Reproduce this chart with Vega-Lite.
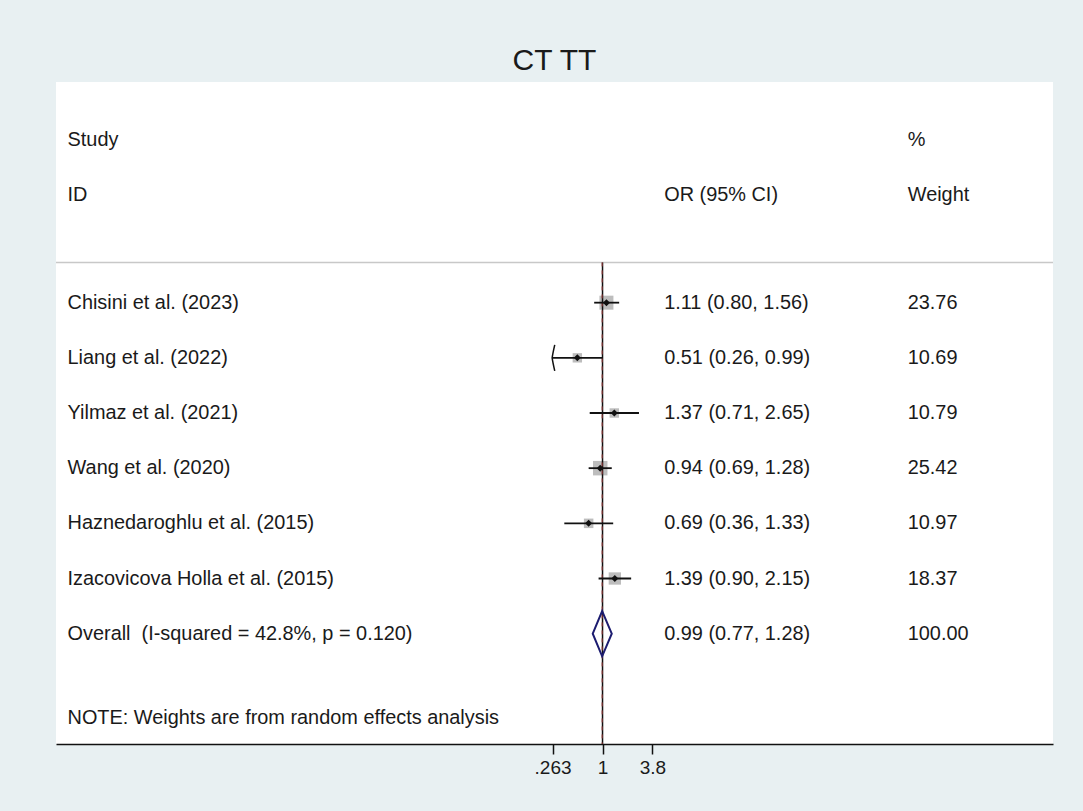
{
  "$schema": "https://vega.github.io/schema/vega-lite/v6.json",
  "width": 997,
  "height": 662,
  "autosize": {"type": "none"},
  "padding": {"left": 56, "top": 82, "right": 30, "bottom": 67},
  "background": "#e8f0f2",
  "config": {
    "view": {"fill": "white", "stroke": null},
    "font": "Liberation Sans",
    "text": {"font": "Liberation Sans", "fontSize": 19.9, "color": "#1a1a1a", "baseline": "middle"},
    "axisX": {
      "title": null, "grid": false,
      "domainColor": "#111111", "domainWidth": 1.5,
      "tickColor": "#111111", "tickWidth": 1.5, "tickSize": 10,
      "labelFont": "Liberation Sans", "labelFontSize": 19, "labelColor": "#1a1a1a",
      "labelPadding": 4, "labelFlush": false, "labelOverlap": false
    }
  },
  "title": {"text": "CT TT", "font": "Liberation Sans", "fontSize": 30, "fontWeight": "normal", "color": "#1a1a1a", "offset": 6, "anchor": "middle"},
  "data": {
    "values": [
      {"row": 1, "study": "Chisini et al. (2023)", "or": 1.11, "lo": 0.80, "hi": 1.56, "weight": 23.76},
      {"row": 2, "study": "Liang et al. (2022)", "or": 0.51, "lo": 0.26, "hi": 0.99, "weight": 10.69},
      {"row": 3, "study": "Yilmaz et al. (2021)", "or": 1.37, "lo": 0.71, "hi": 2.65, "weight": 10.79},
      {"row": 4, "study": "Wang et al. (2020)", "or": 0.94, "lo": 0.69, "hi": 1.28, "weight": 25.42},
      {"row": 5, "study": "Haznedaroghlu et al. (2015)", "or": 0.69, "lo": 0.36, "hi": 1.33, "weight": 10.97},
      {"row": 6, "study": "Izacovicova Holla et al. (2015)", "or": 1.39, "lo": 0.90, "hi": 2.15, "weight": 18.37},
      {"row": 7, "study": "Overall \u00a0(I-squared = 42.8%, p = 0.120)", "or": 0.99, "lo": 0.77, "hi": 1.28, "weight": 100.00}
    ]
  },
  "layer": [
    {
      "data": {"values": [{}]},
      "mark": {"type": "rule", "color": "#c8c8c8", "strokeWidth": 1.5},
      "encoding": {
        "y": {"datum": 0.27, "type": "quantitative", "scale": {"domain": [-3, 9], "reverse": true, "nice": false, "zero": false}, "axis": null}
      }
    },
    {
      "transform": [{"filter": "datum.row < 7"}],
      "mark": {"type": "point", "shape": "square", "filled": true, "color": "#bdbdbd", "opacity": 1},
      "encoding": {
        "x": {
          "field": "or", "type": "quantitative",
          "scale": {"type": "log", "domain": [4.504e-7, 170240], "nice": false},
          "axis": {
            "values": [0.263, 1, 3.8],
            "labelExpr": "datum.value < 0.5 ? '.263' : (datum.value < 2 ? '1' : '3.8')",
            "title": null
          }
        },
        "y": {"field": "row", "type": "quantitative", "axis": null},
        "size": {"field": "weight", "type": "quantitative", "scale": {"domain": [0, 100], "range": [0, 825]}, "legend": null}
      }
    },
    {
      "data": {"values": [{}]},
      "mark": {"type": "rule", "color": "#111111", "strokeWidth": 1.5},
      "encoding": {
        "x": {"datum": 1, "type": "quantitative", "title": null},
        "y": {"datum": 0.27, "type": "quantitative", "axis": null},
        "y2": {"datum": 9}
      }
    },
    {
      "transform": [{"filter": "datum.row == 7"}],
      "mark": {"type": "rule", "color": "#9a3a3a", "strokeWidth": 1, "strokeDash": [4, 4]},
      "encoding": {
        "x": {"field": "or", "type": "quantitative", "title": null},
        "y": {"datum": 0.27, "type": "quantitative", "axis": null},
        "y2": {"datum": 9}
      }
    },
    {
      "transform": [{"filter": "datum.row < 7"}],
      "mark": {"type": "rule", "color": "#111111", "strokeWidth": 1.8},
      "encoding": {
        "x": {"field": "lo", "type": "quantitative", "title": null},
        "x2": {"field": "hi"},
        "y": {"field": "row", "type": "quantitative", "axis": null}
      }
    },
    {
      "transform": [{"filter": "datum.lo < 0.263"}],
      "mark": {"type": "point", "shape": "M 0.2 -1 Q 0.05 -0.35 0 0 Q 0.05 0.35 0.2 1", "filled": false, "stroke": "#111111", "strokeWidth": 1.5, "size": 676, "opacity": 1},
      "encoding": {
        "x": {"field": "lo", "type": "quantitative", "title": null},
        "y": {"field": "row", "type": "quantitative", "axis": null}
      }
    },
    {
      "transform": [{"filter": "datum.row < 7"}],
      "mark": {"type": "point", "shape": "diamond", "filled": true, "color": "#111111", "size": 49, "opacity": 1},
      "encoding": {
        "x": {"field": "or", "type": "quantitative", "title": null},
        "y": {"field": "row", "type": "quantitative", "axis": null}
      }
    },
    {
      "transform": [
        {"filter": "datum.row == 7"},
        {"fold": ["lo", "or", "hi"], "as": ["k", "xv"]},
        {"calculate": "datum.row - (datum.k == 'or' ? 0.41 : 0)", "as": "ytop"},
        {"calculate": "datum.row + (datum.k == 'or' ? 0.41 : 0)", "as": "ybot"}
      ],
      "mark": {"type": "area", "fillOpacity": 0, "stroke": "#1c1c70", "strokeWidth": 2, "color": "#1c1c70"},
      "encoding": {
        "x": {"field": "xv", "type": "quantitative", "title": null},
        "y": {"field": "ytop", "type": "quantitative", "axis": null},
        "y2": {"field": "ybot"}
      }
    },
    {
      "mark": {"type": "text", "align": "left"},
      "encoding": {
        "x": {"datum": 6.13e-7, "type": "quantitative", "title": null},
        "y": {"field": "row", "type": "quantitative", "axis": null},
        "text": {"field": "study"}
      }
    },
    {
      "transform": [
        {"calculate": "format(datum.or, '.2f') + ' (' + format(datum.lo, '.2f') + ', ' + format(datum.hi, '.2f') + ')'", "as": "citext"}
      ],
      "mark": {"type": "text", "align": "left"},
      "encoding": {
        "x": {"datum": 5.2, "type": "quantitative", "title": null},
        "y": {"field": "row", "type": "quantitative", "axis": null},
        "text": {"field": "citext"}
      }
    },
    {
      "mark": {"type": "text", "align": "left"},
      "encoding": {
        "x": {"datum": 3500, "type": "quantitative", "title": null},
        "y": {"field": "row", "type": "quantitative", "axis": null},
        "text": {"field": "weight", "format": ".2f"}
      }
    },
    {
      "data": {"values": [{}]},
      "mark": {"type": "text", "align": "left", "text": "Study"},
      "encoding": {
        "x": {"datum": 6.13e-7, "type": "quantitative", "title": null},
        "y": {"datum": -1.95, "type": "quantitative", "axis": null}
      }
    },
    {
      "data": {"values": [{}]},
      "mark": {"type": "text", "align": "left", "text": "ID"},
      "encoding": {
        "x": {"datum": 6.13e-7, "type": "quantitative", "title": null},
        "y": {"datum": -0.95, "type": "quantitative", "axis": null}
      }
    },
    {
      "data": {"values": [{}]},
      "mark": {"type": "text", "align": "left", "text": "OR (95% CI)"},
      "encoding": {
        "x": {"datum": 5.2, "type": "quantitative", "title": null},
        "y": {"datum": -0.95, "type": "quantitative", "axis": null}
      }
    },
    {
      "data": {"values": [{}]},
      "mark": {"type": "text", "align": "left", "text": "%"},
      "encoding": {
        "x": {"datum": 3500, "type": "quantitative", "title": null},
        "y": {"datum": -1.95, "type": "quantitative", "axis": null}
      }
    },
    {
      "data": {"values": [{}]},
      "mark": {"type": "text", "align": "left", "text": "Weight"},
      "encoding": {
        "x": {"datum": 3500, "type": "quantitative", "title": null},
        "y": {"datum": -0.95, "type": "quantitative", "axis": null}
      }
    },
    {
      "data": {"values": [{}]},
      "mark": {"type": "text", "align": "left", "text": "NOTE: Weights are from random effects analysis"},
      "encoding": {
        "x": {"datum": 6.13e-7, "type": "quantitative", "title": null},
        "y": {"datum": 8.53, "type": "quantitative", "axis": null}
      }
    }
  ]
}
